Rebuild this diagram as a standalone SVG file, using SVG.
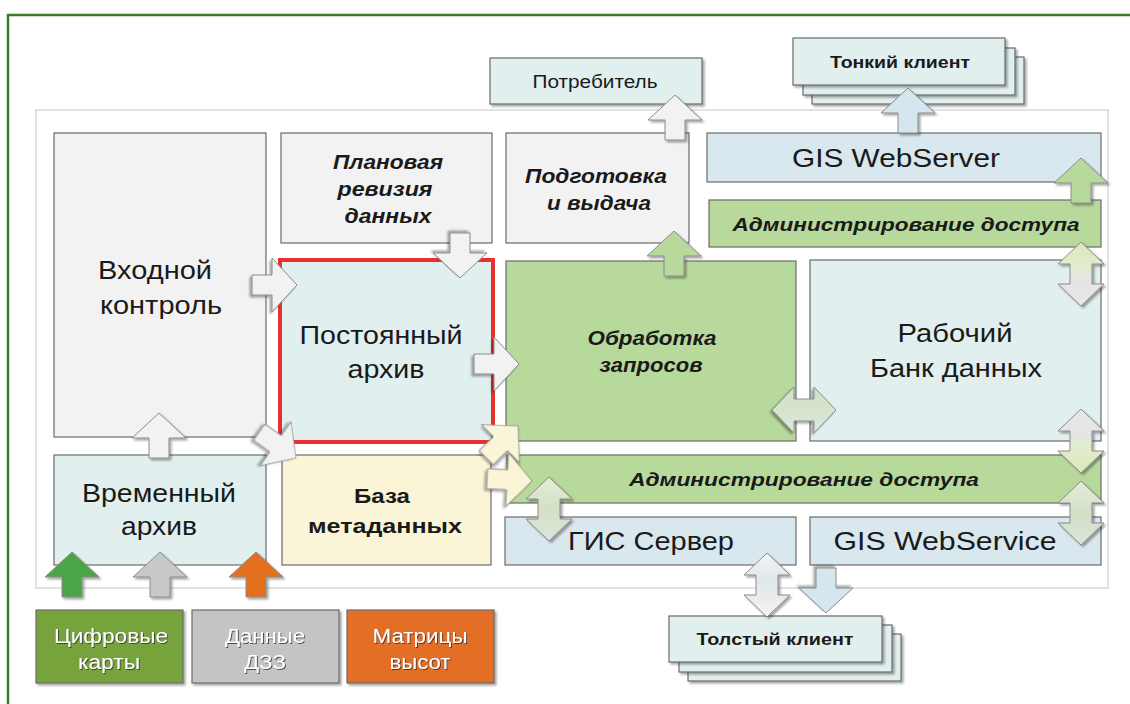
<svg xmlns="http://www.w3.org/2000/svg" xmlns:xlink="http://www.w3.org/1999/xlink" width="1130" height="704" viewBox="0 0 1130 704">
<defs>
<style>
.box{stroke:#6b6b6b;stroke-width:1.2}
.gray{fill:#f2f2f2}
.lb{fill:#e1efef}
.bl{fill:#d9e7ee}
.gr{fill:#b8d99c}
.cr{fill:#fbf5d8}
.arr{stroke:#8a8a8a;stroke-width:1;filter:url(#sh)}
.t{font-family:"Liberation Sans",Arial,sans-serif;fill:#1a1a1a;text-anchor:middle}
.big{font-size:25px}
.bi{font-size:20px;font-weight:bold;font-style:italic}
.adm{font-size:19px;font-weight:bold;font-style:italic}
.bb{font-size:21px;font-weight:bold}
.cl{font-size:16px;font-weight:bold}
.src{font-size:20px;fill:#ffffff;filter:url(#tsh)}
</style>
<filter id="sh" x="-30%" y="-30%" width="160%" height="160%">
<feDropShadow dx="2" dy="2" stdDeviation="1.3" flood-color="#000" flood-opacity="0.35"/>
</filter>
<filter id="tsh" x="-10%" y="-20%" width="120%" height="140%">
<feDropShadow dx="1" dy="1" stdDeviation="0.6" flood-color="#333" flood-opacity="0.8"/>
</filter>
<path id="au" d="M0,0 L27,25 L10,25 L10,45 L-10,45 L-10,25 L-27,25 Z"/>
<path id="ad" d="M0,-32 L23,-10 L11,-10 L11,10 L23,10 L0,32 L-23,10 L-11,10 L-11,-10 L-23,-10 Z"/>
<linearGradient id="gA" x1="0" y1="0" x2="0" y2="1">
<stop offset="0" stop-color="#dbe8b8"/><stop offset="0.45" stop-color="#e2edd2"/><stop offset="0.6" stop-color="#e4e4e4"/><stop offset="1" stop-color="#e8e8e8"/>
</linearGradient>
<linearGradient id="gB" x1="0" y1="0" x2="0" y2="1">
<stop offset="0" stop-color="#e8e8e8"/><stop offset="0.4" stop-color="#e4e4e4"/><stop offset="0.55" stop-color="#e2edd2"/><stop offset="1" stop-color="#dbe8b8"/>
</linearGradient>
<linearGradient id="gC" x1="0" y1="0" x2="0" y2="1">
<stop offset="0" stop-color="#e3ecd8"/><stop offset="0.5" stop-color="#d3e0c6"/><stop offset="1" stop-color="#dbe5dc"/>
</linearGradient>
<linearGradient id="gH" x1="0" y1="0" x2="1" y2="0">
<stop offset="0" stop-color="#d3e2c5"/><stop offset="0.6" stop-color="#d6e4d0"/><stop offset="1" stop-color="#dde9ee"/>
</linearGradient>
<linearGradient id="gV" x1="0" y1="0" x2="0" y2="1">
<stop offset="0" stop-color="#f4f4f4"/><stop offset="0.4" stop-color="#dfe8ec"/><stop offset="0.7" stop-color="#ebebeb"/><stop offset="1" stop-color="#f6f6f6"/>
</linearGradient>
</defs>

<rect x="0" y="0" width="1130" height="704" fill="#ffffff"/>
<rect x="8" y="15" width="1140" height="720" fill="none" stroke="#3d7a27" stroke-width="2.5"/>
<rect x="36" y="110" width="1072" height="478" fill="#ffffff" stroke="#d9d9d9" stroke-width="1.5"/>

<g id="vhodnoy">
<rect class="box gray" x="54" y="133" width="212" height="304"/>
<text class="t big" x="155" y="279" textLength="114" lengthAdjust="spacingAndGlyphs">Входной</text>
<text class="t big" x="161" y="314" textLength="122" lengthAdjust="spacingAndGlyphs">контроль</text>
</g>
<g id="planovaya">
<rect class="box gray" x="281" y="133" width="211" height="110"/>
<text class="t bi" x="388" y="169" textLength="110" lengthAdjust="spacingAndGlyphs">Плановая</text>
<text class="t bi" x="385" y="196" textLength="95" lengthAdjust="spacingAndGlyphs">ревизия</text>
<text class="t bi" x="388" y="223" textLength="87" lengthAdjust="spacingAndGlyphs">данных</text>
</g>
<g id="podgotovka">
<rect class="box gray" x="506" y="133" width="183" height="110"/>
<text class="t bi" x="596" y="183" textLength="142" lengthAdjust="spacingAndGlyphs">Подготовка</text>
<text class="t bi" x="599" y="210" textLength="104" lengthAdjust="spacingAndGlyphs">и выдача</text>
</g>
<g id="webserver">
<rect class="box bl" x="707" y="133" width="394" height="49"/>
<text class="t big" style="font-size:26px" x="896" y="167" textLength="208" lengthAdjust="spacingAndGlyphs">GIS WebServer</text>
</g>
<g id="admin-top">
<rect class="box gr" x="709" y="200" width="392" height="47"/>
<text class="t adm" x="906" y="231" textLength="347" lengthAdjust="spacingAndGlyphs">Администрирование доступа</text>
</g>
<g id="postoyanny">
<rect x="280" y="260" width="213" height="182" fill="#e1efef" stroke="#e8312f" stroke-width="4"/>
<text class="t big" x="381" y="344" textLength="163" lengthAdjust="spacingAndGlyphs">Постоянный</text>
<text class="t big" x="386" y="378" textLength="77" lengthAdjust="spacingAndGlyphs">архив</text>
</g>
<g id="obrabotka">
<rect class="box gr" x="506" y="261" width="290" height="180"/>
<text class="t bi" x="652" y="345" textLength="129" lengthAdjust="spacingAndGlyphs">Обработка</text>
<text class="t bi" x="651" y="372" textLength="103" lengthAdjust="spacingAndGlyphs">запросов</text>
</g>
<g id="rabochiy">
<rect class="box lb" x="810" y="260" width="291" height="181"/>
<text class="t big" x="955" y="342" textLength="115" lengthAdjust="spacingAndGlyphs">Рабочий</text>
<text class="t big" x="956" y="377" textLength="172" lengthAdjust="spacingAndGlyphs">Банк данных</text>
</g>
<g id="vremenny">
<rect class="box lb" x="54" y="455" width="212" height="110"/>
<text class="t big" x="159" y="502" textLength="154" lengthAdjust="spacingAndGlyphs">Временный</text>
<text class="t big" x="159" y="535" textLength="76" lengthAdjust="spacingAndGlyphs">архив</text>
</g>
<g id="metadata">
<rect class="box cr" x="282" y="455" width="209" height="110"/>
<text class="t bb" x="382" y="503" textLength="56" lengthAdjust="spacingAndGlyphs">База</text>
<text class="t bb" x="385" y="533" textLength="154" lengthAdjust="spacingAndGlyphs">метаданных</text>
</g>
<g id="admin-bottom">
<rect class="box gr" x="507" y="455" width="594" height="48"/>
<text class="t adm" x="804" y="486" textLength="350" lengthAdjust="spacingAndGlyphs">Администрирование доступа</text>
</g>
<g id="gis-server">
<rect class="box bl" x="505" y="517" width="291" height="48"/>
<text class="t big" x="651" y="550" textLength="166" lengthAdjust="spacingAndGlyphs">ГИС Сервер</text>
</g>
<g id="webservice">
<rect class="box bl" x="810" y="517" width="291" height="48"/>
<text class="t big" style="font-size:26px" x="945" y="550" textLength="223" lengthAdjust="spacingAndGlyphs">GIS WebService</text>
</g>
<g id="potrebitel">
<rect class="box lb" x="490" y="58" width="212" height="46" filter="url(#sh)"/>
<text class="t" style="font-size:18px" x="595" y="88" textLength="125" lengthAdjust="spacingAndGlyphs">Потребитель</text>
</g>
<g id="tonkiy">
<rect class="box lb" x="812" y="57" width="212" height="47" filter="url(#sh)"/>
<rect class="box lb" x="803" y="48" width="212" height="47" filter="url(#sh)"/>
<rect class="box lb" x="793" y="38" width="212" height="47" filter="url(#sh)"/>
<text class="t cl" x="900" y="68" textLength="140" lengthAdjust="spacingAndGlyphs">Тонкий клиент</text>
</g>
<g id="tolsty">
<rect class="box lb" x="688" y="634" width="213" height="47" filter="url(#sh)"/>
<rect class="box lb" x="679" y="625" width="213" height="47" filter="url(#sh)"/>
<rect class="box lb" x="669" y="616" width="213" height="46" filter="url(#sh)"/>
<text class="t cl" x="775" y="645" textLength="157" lengthAdjust="spacingAndGlyphs">Толстый клиент</text>
</g>
<g id="cifrovye">
<rect class="box" x="36" y="610" width="147" height="73" fill="#77a33c" filter="url(#sh)"/>
<text class="t src" x="111" y="643" textLength="114" lengthAdjust="spacingAndGlyphs">Цифровые</text>
<text class="t src" x="109" y="669" textLength="62" lengthAdjust="spacingAndGlyphs">карты</text>
</g>
<g id="dzz">
<rect class="box" x="192" y="610" width="147" height="73" fill="#c4c4c4" filter="url(#sh)"/>
<text class="t src" x="265" y="643" textLength="80" lengthAdjust="spacingAndGlyphs">Данные</text>
<text class="t src" x="265" y="669" textLength="42" lengthAdjust="spacingAndGlyphs">ДЗЗ</text>
</g>
<g id="matricy">
<rect class="box" x="347" y="610" width="147" height="73" fill="#e36e26" filter="url(#sh)"/>
<text class="t src" x="420" y="643" textLength="95" lengthAdjust="spacingAndGlyphs">Матрицы</text>
<text class="t src" x="420" y="669" textLength="61" lengthAdjust="spacingAndGlyphs">высот</text>
</g>

<g id="connectors">
<use href="#au" class="arr" fill="#f2f2f2" transform="translate(675,95)"/>
<use href="#au" class="arr" fill="#d6e6ee" transform="translate(908,88)"/>
<use href="#au" class="arr" fill="#b8d99c" transform="translate(1081,158)"/>
<use href="#au" class="arr" fill="#b8d99c" transform="translate(674,231)"/>
<use href="#au" class="arr" fill="#f2f2f2" transform="translate(460,278) rotate(180)"/>
<use href="#au" class="arr" fill="#f2f2f2" transform="translate(297,285) rotate(90)"/>
<use href="#au" class="arr" fill="#f2f2f2" transform="translate(519,364) rotate(90)"/>
<use href="#au" class="arr" fill="#f2f2f2" transform="translate(159,413)"/>
<use href="#au" class="arr" fill="#f2f2f2" transform="translate(296,458) rotate(125)"/>
<use href="#au" class="arr" fill="#fbf5d8" transform="translate(518,426) rotate(45)"/>
<use href="#au" class="arr" fill="#fbf5d8" transform="translate(532,481) rotate(93)"/>
<use href="#au" class="arr" fill="#4aa544" transform="translate(72,552)"/>
<use href="#au" class="arr" fill="#c8c8c8" transform="translate(160,552)"/>
<use href="#au" class="arr" fill="#e2701f" transform="translate(256,552)"/>
<use href="#au" class="arr" fill="#d6e6ee" transform="translate(826,613) rotate(180)"/>
<use href="#ad" class="arr" fill="url(#gA)" transform="translate(1081,274)"/>
<use href="#ad" class="arr" fill="url(#gB)" transform="translate(1081,441)"/>
<use href="#ad" class="arr" fill="url(#gC)" transform="translate(1081,513)"/>
<use href="#ad" class="arr" fill="url(#gC)" transform="translate(549,509)"/>
<use href="#ad" class="arr" fill="url(#gV)" transform="translate(767,585)"/>
<use href="#ad" class="arr" fill="url(#gH)" transform="translate(804,410) rotate(90)"/>
</g>
</svg>
